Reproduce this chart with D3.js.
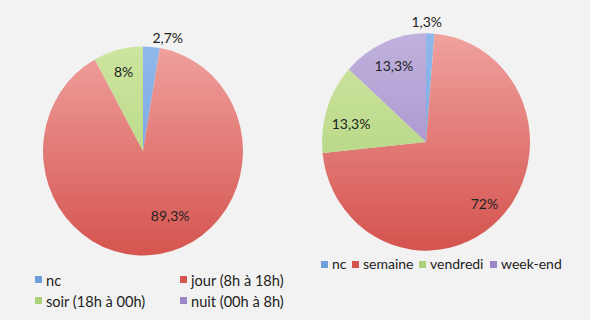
<!DOCTYPE html>
<html>
<head>
<meta charset="utf-8">
<script src="https://cdn.jsdelivr.net/npm/d3@7"></script>
<style>
  body { margin: 0; background: #f2f2f2; }
  text { font-family: Lato, "Open Sans", sans-serif; fill: #222; }
</style>
</head>
<body>
<div id="chart"></div>
<script>
// left pie : time of day
var heures = ["nc", "jour (8h à 18h)", "soir (18h à 00h)", "nuit (00h à 8h)"];
var heuresVals = [2.7, 89.3, 8, 0];
var heuresLabels = ["2,7%", "89,3%", "8%", ""];

// right pie : day of week
var jours = ["nc", "semaine", "vendredi", "week-end"];
var joursVals = [1.3, 72, 13.3, 13.3];
var joursLabels = ["1,3%", "72%", "13,3%", "13,3%"];

var colTop = ["#8fb8ea", "#efa09d", "#cde59f", "#bfb0dc"];
var colBot = ["#6f9fdb", "#d5544f", "#acd07a", "#9d86c6"];

var svg = d3.select("#chart").append("svg").attr("width", 590).attr("height", 320);
var defs = svg.append("defs");

for (var i = 0; i < 4; i++) {
  var g = defs.append("linearGradient").attr("id", "grad" + i)
    .attr("gradientUnits", "userSpaceOnUse")
    .attr("x1", 0).attr("x2", 0)
    .attr("y1", -100).attr("y2", 100);
  g.append("stop").attr("offset", "0%").attr("stop-color", colTop[i]);
  g.append("stop").attr("offset", "100%").attr("stop-color", colBot[i]);
}

var pie = d3.pie().sort(null).value(function(d) { return d; });

// labelPos: fraction of radius, labelRot: angle nudge (deg)
function drawPie(cx, cy, r, sy, vals, labels, labelPos, labelRot) {
  var g = svg.append("g").attr("transform", "translate(" + cx + "," + cy + ") scale(1," + sy + ")");
  var arc = d3.arc().innerRadius(0).outerRadius(r);
  var arcs = pie(vals);
  g.selectAll("path").data(arcs).enter().append("path")
    .attr("d", arc)
    .attr("fill", function(d, i) { return "url(#grad" + i + ")"; })
    .attr("stroke", "none");
  var lab = svg.append("g").attr("transform", "translate(" + cx + "," + cy + ")");
  function ang(d, i) { return (d.startAngle + d.endAngle) / 2 + labelRot[i] * Math.PI / 180; }
  lab.selectAll("text").data(arcs).enter().append("text")
    .attr("text-anchor", "middle")
    .attr("dy", "0.35em")
    .attr("font-size", 14)
    .attr("x", function(d, i) { return Math.sin(ang(d, i)) * r * labelPos[i]; })
    .attr("y", function(d, i) { return -Math.cos(ang(d, i)) * r * sy * labelPos[i]; })
    .text(function(d, i) { return labels[i]; });
}

drawPie(143, 151, 100, 1.045, heuresVals, heuresLabels, [1.11, 0.68, 0.78, 0.7], [8, -14, 0, 0]);
drawPie(426, 142, 104, 1.045, joursVals, joursLabels, [1.10, 0.80, 0.74, 0.76], [-2, 1, -5, 0]);

// legend left (2 columns x 2 rows)
var legL = svg.append("g");
var legLx = [35, 180, 35, 180], legLy = [282, 282, 303, 303];
legL.selectAll("rect").data(heures).enter().append("rect")
  .attr("x", function(d, i) { return legLx[i]; })
  .attr("y", function(d, i) { return legLy[i] - 6; })
  .attr("width", 7).attr("height", 7)
  .attr("fill", function(d, i) { return colBot[i]; });
legL.selectAll("text").data(heures).enter().append("text")
  .attr("x", function(d, i) { return legLx[i] + 11; })
  .attr("y", function(d, i) { return legLy[i]; })
  .attr("dy", "0.3em")
  .attr("font-size", 14.6)
  .text(function(d) { return d; });

// legend right (one row)
var legR = svg.append("g");
var legRx = [321, 352, 419, 490];
legR.selectAll("rect").data(jours).enter().append("rect")
  .attr("x", function(d, i) { return legRx[i]; })
  .attr("y", 261).attr("width", 7).attr("height", 7)
  .attr("fill", function(d, i) { return colBot[i]; });
legR.selectAll("text").data(jours).enter().append("text")
  .attr("x", function(d, i) { return legRx[i] + 11; })
  .attr("y", 265).attr("dy", "0.3em")
  .attr("font-size", 14)
  .text(function(d) { return d; });
</script>
</body>
</html>
